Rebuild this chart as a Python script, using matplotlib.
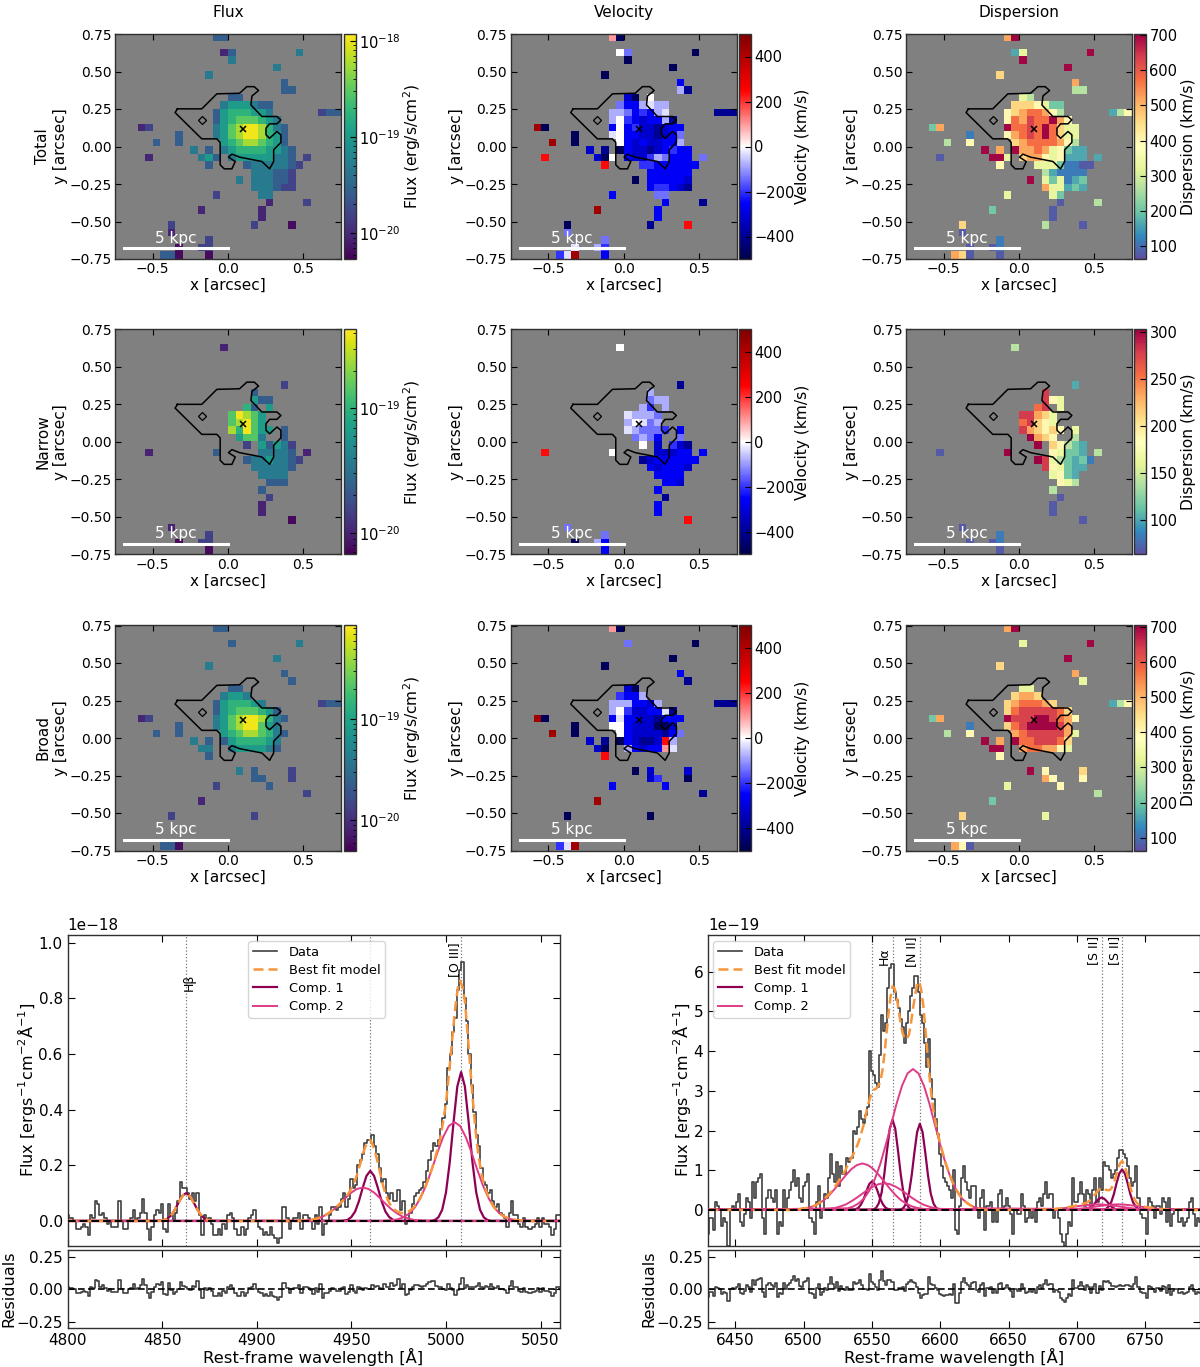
import numpy as np
import matplotlib
matplotlib.use("Agg")
from matplotlib import pyplot as plt
from matplotlib.colors import LogNorm, Normalize

# maps: one string per image row, top row first, '.' = no detection
flux_total = [
    ".............33", "", "..............13........4", "...............4",
    ".....................4", "............4", "......................3",
    "......................33", "...............33", "..............4555433",
    ".............35666554......233", ".............356777654",
    "...12........4578998643", "........3....4578998653",
    ".....3..3.....567887653", "..........4.3.4566665543",
    "....1......453.455555443.2", "............3....34444432",
    "..................444332", "................4.444332",
    "..................444322", ".............2.....44",
    "....................1....2", "...........1.......1", "...................1",
    ".......2..........2....0", ".......1", "............2", "........0..22",
    "......330...0",
]
flux_narrow = [
    "", "", "..............1", "", "", "", "", "......................2",
    "..................3", "..................533", ".................63.5",
    "...............79875", "...............78975", "...............869755.3",
    "................5774..3", ".................2.53542",
    "....1........3.....44443.1", ".................34454432",
    "..................444443", "...................4444",
    "....................333", "...................3", "....................2",
    "...................1", "...................1",
    ".......................0", ".......1", "............2", "........0..22",
    "............0",
]
flux_broad = [
    ".............33", "", "...............3........4", "",
    ".....................4", "............4", "......................3",
    ".......................3", "...............33", "..............4554",
    ".............3566654.......233", ".............356777653",
    "...12........4578998643", "........3....457899754",
    ".....3..3.....567887643", "..........4.3.35666654",
    "...........44..4555543", "............3", "",
    "................4.3....2", "..................33...2",
    ".............2......3", ".........................2", "...........1", "",
    ".......2..........2", "", "", "", "......330",
]
vel_total = [
    ".............ja", "", "..............if........a", "...............a",
    ".....................a", "............a", "......................d",
    "......................gb", "...............ca.i", "..............fddghgg",
    ".............ggfdedgh......bbb", ".............giedcddgb",
    "...ma........dideccbcdd", "........a....hiddccbcdf",
    ".....m..a.....idcdccddg", "..........c.b.adccbcdedd",
    "....k......cai.dccegfddd.f", "............k....eedddddd",
    "..................dddddd", "................a.dddddc",
    "..................deedcb", ".............d.....ff",
    "....................d....b", "...........m.......d", "...................d",
    ".......a..........b....k", ".......f", "............f", "........h..ge",
    "......ehm...d",
]
vel_narrow = [
    "", "", "..............i", "", "", "", "", "......................b",
    "..................g", "..................fgg", ".................ge.g",
    "...............hgggf", "...............gihfg", "...............hgfffe.d",
    "................fgfd..f", ".................i.c.ecb",
    "....k........i.....cccdd.d", ".................bcdddddd",
    "..................dcdddc", "...................dddd",
    "....................ddc", "...................d", "....................b",
    "...................d", "...................d",
    ".......................k", ".......f", "............f", "........a..gd",
    "............d",
]
vel_broad = [
    ".............ja", "", "...............f........a", "",
    ".....................a", "............a", "......................d",
    ".......................b", "...............ca", "..............eddg",
    ".............gggddcg.......bbb", ".............gieccddhb",
    "...ma........dhddccbddd", "........a....iidcccaac",
    ".....m..a.....idccccbdf", "..........c.b.adcbbckg",
    "...........ca..gdcddjh", "............k", "",
    "................a.c....c", "..................ce...a",
    ".............d......d", ".........................b", "...........m", "",
    ".......a..........a", "", "", "", "......ehm",
]
disp_total = [
    ".............8b", "", "..............25........b", "...............b",
    ".....................b", "............7", "......................8",
    "......................44", "...............54", "..............7776533",
    ".............67899864......246", ".............698a99b86",
    "...38........b99a9b9755", "........1....689a9b9755",
    ".....4..6.....789999864", "..........b.8.b889856322",
    "....0......bb5.788656222.2", "............6....55531100",
    "..................421111", "................b.535123",
    "..................855232", ".............5.....53",
    "....................0....4", "...........3.......0", "...................0",
    ".......7..........4....0", ".......0", "............1", "........0..01",
    "......870...0",
]
disp_narrow = [
    "", "", "..............4", "", "", "", "", "......................2",
    "..................a", "..................a65", ".................9a.5",
    "...............aa875", "...............9a765", "...............a87676.5",
    "................b876..4", ".................b.76432",
    "....0........b.....65332.4", ".................ba543231",
    "..................a65322", "...................5632",
    "....................654", "...................4", "....................0",
    "...................0", "...................0",
    ".......................0", ".......0", "............1", "........0..01",
    "............0",
]
disp_broad = [
    ".............8b", "", "...............5........b", "",
    ".....................b", "............7", "......................8",
    ".......................5", "...............55", "..............7887",
    ".............7899987.......246", ".............79aaaaa97",
    "...38........baaabba986", "........1....79abbbba8",
    ".....4..6.....89aaaaa85", "..........b.8.b99aaa97",
    "...........bb..8998865", "............6", "",
    "................b.6....7", "..................86...6",
    ".............5......6", ".........................4", "...........3", "",
    ".......7..........5", "", "", "", "......860",
]

# what each map character stands for
log_flux_total = [-20.2, -20.03, -19.8, -19.57, -19.29, -18.98, -18.75, -18.52, -18.23, -17.98]
log_flux_narrow = [-20.13, -20.0, -19.82, -19.64, -19.42, -19.18, -19.0, -18.85, -18.6, -18.4]
log_flux_broad = [-20.23, -20.07, -19.85, -19.63, -19.36, -19.07, -18.85, -18.65, -18.35, -18.12]
vel_levels = dict(a=-480, b=-400, c=-320, d=-260, e=-200, f=-140, g=-80, h=-30, i=0, j=100, k=240, l=350, m=430)
disp_levels_wide = [77, 115, 166, 205, 268, 332, 396, 460, 518, 575, 633, 697]
disp_levels_narrow = [68, 82, 102, 116, 140, 165, 189, 213, 235, 256, 279, 303]

contour_x = [-0.336, -0.174, -0.074, 0.077, 0.125, 0.174, 0.203, 0.159, 0.152, 0.225, 0.325, 0.351, 0.325, 0.276, 0.252,
             0.252, 0.276, 0.325, 0.351, 0.351, 0.303, 0.303, 0.276, 0.225, 0.077, 0.026, 0.003, 0.048, 0.026, -0.025,
             -0.052, -0.052, -0.074, -0.174, -0.351, -0.336]
contour_y = [0.251, 0.251, 0.351, 0.355, 0.399, 0.399, 0.373, 0.337, 0.277, 0.2, 0.2, 0.177, 0.151, 0.151, 0.122,
             0.078, 0.055, 0.1, 0.078, 0.027, -0.022, -0.1, -0.149, -0.1, -0.071, -0.051, -0.071, -0.1, -0.149, -0.149,
             -0.122, 0.027, 0.051, 0.051, 0.226, 0.251]

# spectra, both in units of 1e-20
data_left = [
    2, 1, 1, 0, -3, -3, -2, -1, -2, -5, 2, 1, 7, 6, 2, 3, 1, -1, 0, -2, -2, -2, 7, 0, -3, -3, 0, 1, 4, 0,
    1, 3, 8, 3, -3, -7, -2, 2, 4, 3, 6, -3, -4, 6, 2, 0, 3, 7, 14, 12, 12, 10, 8, 10, 7, 10, 2, -5,
    2, 0, 1, -1, -5, -5, -3, -5, -1, -3, 2, 3, 1, -3, -5, -5, -2, -5, -3, 1, 2, 4, 0, -2, -3, -5, -4, -5, -2, -5,
    -6, -8, -6, 5, 5, 1, -3, 0, 1, 1, 3, -3, 2, 2, 1, 0, -3, 2, -1, 5,
    -5, -1, 0, 2, 5, 5, 4, 5, 8, 10, 5, 8, 15, 12, 13, 20, 22, 24, 28, 29, 29, 31, 27, 24, 19, 14, 15, 10, 8, 10,
    7, 7, 11, 4, 7, -1, 0, 3, 6, 9, 10, 11, 12, 14, 18, 22, 25, 28, 27, 29, 33, 37, 42, 55, 60, 68, 73, 83, 90, 93,
    80, 72, 60, 49, 39, 31, 27, 19, 14, 13, 10, 11, 7, 5, 6, 3, 2, 1, -2, 3, 7, 2, 2, -1, -2, 1, -2, -3, -3, -2,
    -1, 1, -2, 1, -1, -1, -2, -5, -3, 2, 2,
]
data_right = [
    -6, -2, -2, -5, 2, 1, 0, -4, -2, -3, -9, 0, 1, 0, 2, 4, -3, -4, -1, 3, 2, -2, 7, 3, 7, 8, 9, -2, -6, 3,
    5, 3, 2, 5, -6, -3, -4, 5, 0, 3, 5, 7, 10, 6, 8, 3, 2, 6, 7, 9, -2, -3, -6, 2, 6, -2, 0, 4, 3, 8,
    14, 9, 7, 12, 6, 11, 9, 9, 13, 12, 13, 20, 19, 21, 25, 23, 22, 24, 26, 40, 35, 34, 32, 31, 39, 49, 45, 47, 56, 61,
    62, 55, 53, 51, 48, 46, 42, 47, 50, 54, 56, 59, 59, 55, 49, 47, 42, 36, 43, 33, 28, 23, 19, 14, 11, 8, 7, 6, 5, 3,
    10, -5, -6, 1, 8, 11, 7, 5, 3, 6, 6, 0, -2, 3, 5, -5, 1, 1, 2, -3, 0, -3, 4, 5, 0, 1, 3, 1, -1, -6,
    0, -1, -1, 4, 1, -3, -2, 0, -2, 0, -3, 2, 3, 1, 4, 7, 3, 4, 4, -2, 0, -2, -6, -8, -9, -6, -3, -4, 8, 2,
    2, 4, 7, 4, 1, 5, 4, 0, 5, 8, 2, 8, 5, 12, 11, 11, 10, 8, 9, 10, 13, 15, 15, 14, 13, 11, 8, 6, 7, 11,
    3, -1, -2, -2, -6, 3, 2, 1, -2, 1, 1, -1, 3, 2, -3, 3, -4, -1, 0, 0, -3, -2, -4, -3, -2, 2, 3, -1, -4, -2, -3,
]

# fitted components: offset from line centre and height on one wing
dx_narrow = [0, 2, 4, 6, 8, 10, 12, 14, 16]
dx_broad_left = [0, 3, 6, 9, 12, 15, 18, 21, 24, 27, 30, 33, 36, 39]
dx_broad_right = [0, 4, 8, 12, 16, 20, 24, 28, 32, 36, 40, 44, 48]

c1_hb = [10, 9, 6.6, 4, 1.9, 0.8, 0.2, 0.1, 0]
c1_o3_4960 = [18, 16.2, 11.9, 7.1, 3.4, 1.4, 0.4, 0.1, 0]
c1_o3_5008 = [53.5, 48.3, 35.4, 21.1, 10.2, 4, 1.3, 0.3, 0]
c2_o3_4956 = [12, 11.5, 10.2, 8.3, 6.2, 4.3, 2.8, 1.6, 0.9, 0.4, 0.2, 0.1, 0, 0]
c2_o3_5004 = [35.5, 34.1, 30.1, 24.6, 18.5, 12.8, 8.2, 4.8, 2.6, 1.3, 0.6, 0.3, 0.1, 0]

c1_n2_6550 = [7.2, 6.5, 4.8, 2.8, 1.4, 0.5, 0.2, 0, 0]
c1_ha = [22.7, 20.5, 15, 9, 4.3, 1.7, 0.5, 0.1, 0]
c1_n2_6585 = [21.7, 19.6, 14.4, 8.6, 4.1, 1.6, 0.5, 0.1, 0]
c1_s2_6718 = [3.1, 2.8, 2.1, 1.2, 0.6, 0.2, 0.1, 0, 0]
c1_s2_6733 = [10.2, 9.2, 6.8, 4, 1.9, 0.8, 0.2, 0.1, 0]
c2_n2_6543 = [11.7, 11.3, 10.3, 8.8, 7.1, 5.4, 3.8, 2.5, 1.6, 0.9, 0.5, 0.3, 0.1]
c2_ha = [6.7, 6.5, 5.9, 5.1, 4.1, 3.1, 2.2, 1.4, 0.9, 0.5, 0.3, 0.2, 0.1]
c2_n2_6580 = [35.5, 34.4, 31.3, 26.8, 21.5, 16.3, 11.5, 7.7, 4.8, 2.8, 1.6, 0.8, 0.4]
c2_s2_6715 = [1.4, 1.35, 1.2, 1.05, 0.85, 0.65, 0.45, 0.3, 0.2, 0.1, 0.1, 0, 0]
c2_s2_6730 = [1.4, 1.35, 1.2, 1.05, 0.85, 0.65, 0.45, 0.3, 0.2, 0.1, 0.1, 0, 0]

lines_left = [4862.7, 4960, 5008]
names_left = ["Hβ", "", "[O III]"]
lines_right = [6550, 6565, 6585, 6718, 6733]
names_right = ["", "Hα", "[N II]", "[S II]", "[S II]"]

PX_W, PX_H = 1200, 1367
plt.rcParams["font.family"] = "DejaVu Sans"
plt.rcParams["axes.linewidth"] = 1.0
plt.rcParams["axes.edgecolor"] = "#303030"
fig = plt.figure(figsize=(12, 13.67), dpi=100)


def px_axes(left, top, right, bottom):
    return fig.add_axes([left / PX_W, 1 - bottom / PX_H, (right - left) / PX_W, (bottom - top) / PX_H])


def decode(rows, table):
    out = np.full((30, 30), np.nan)
    for j, row in enumerate(rows):
        for i, ch in enumerate(row):
            if ch != ".":
                out[j, i] = table[ch]
    return np.ma.masked_invalid(out)


def digits(values):
    return {"0123456789ab"[k]: v for k, v in enumerate(values)}


def draw_map(left, top, right, cleft, grid, cmap, norm, label, ticks, title=None, ylab="y [arcsec]", label_x=None):
    ax = px_axes(left, top, right, top + 225)
    ax.set_facecolor("#808080")
    im = ax.imshow(grid, extent=(-0.75, 0.75, -0.75, 0.75), cmap=cmap, norm=norm, aspect="auto",
                   interpolation="nearest", origin="upper")
    ax.plot(contour_x, contour_y, color="k", lw=1.1)
    ax.plot([-0.175], [0.175], marker="D", ms=4.2, mfc="none", mec="k", mew=0.9, ls="none")
    ax.plot([0.1], [0.12], marker="x", ms=4.5, color="k", mew=1.1, ls="none")
    ax.plot([-0.69, 0], [-0.677, -0.677], color="w", lw=2.2)
    ax.text(-0.345, -0.66, "5 kpc", color="w", fontsize=11, ha="center", va="bottom")
    ax.set_xlim(-0.75, 0.75)
    ax.set_ylim(-0.75, 0.75)
    ax.set_xticks([-0.5, 0, 0.5])
    ax.set_xticklabels(["\u22120.5", "0.0", "0.5"])
    ax.set_yticks([-0.75, -0.5, -0.25, 0, 0.25, 0.5, 0.75])
    ax.set_yticklabels(["\u22120.75", "\u22120.50", "\u22120.25", "0.00", "0.25", "0.50", "0.75"])
    ax.tick_params(direction="in", top=True, right=True, length=4, labelsize=10, pad=2.5)
    ax.set_xlabel("x [arcsec]", fontsize=11, labelpad=1)
    ax.set_ylabel(ylab, fontsize=11, labelpad=1)
    if title:
        ax.set_title(title, fontsize=11, pad=12.5)
    cax = px_axes(cleft, top, cleft + 12, top + 225)
    cb = fig.colorbar(im, cax=cax)
    cb.set_ticks(ticks)
    cax.tick_params(which="both", direction="in", labelsize=10.5, length=4, pad=2.5)
    cax.tick_params(which="minor", length=2)
    cb.set_label(label, fontsize=11.2)
    cax.yaxis.set_label_coords(label_x, 0.5)


col_left = [115, 510.7, 906]
col_right = [341, 736.5, 1132]
col_cbar = [343.5, 739, 1134]
row_top = [34, 329.5, 625.5]
row_names = ["Total", "Narrow", "Broad"]
flux_maps = [flux_total, flux_narrow, flux_broad]
flux_tables = [log_flux_total, log_flux_narrow, log_flux_broad]
flux_lims = [(5.4e-21, 1.18e-18), (6.7e-21, 4.3e-19), (5e-21, 8.5e-19)]
flux_ticks = [[1e-20, 1e-19, 1e-18], [1e-20, 1e-19], [1e-20, 1e-19]]
flux_labels = ["Flux (erg/s/cm$^2$)"] * 3
vel_maps = [vel_total, vel_narrow, vel_broad]
disp_maps = [disp_total, disp_narrow, disp_broad]
disp_tables = [disp_levels_wide, disp_levels_narrow, disp_levels_wide]
disp_lims = [(64, 703), (63, 303), (64, 703)]
disp_ticks = [[100, 200, 300, 400, 500, 600, 700], [100, 150, 200, 250, 300], [100, 200, 300, 400, 500, 600, 700]]
col_titles = ["Flux", "Velocity", "Dispersion"]

for r in range(3):
    top = row_top[r]
    flux_values = {k: 10.0 ** v for k, v in digits(flux_tables[r]).items()}
    draw_map(col_left[0], top, col_right[0], col_cbar[0], decode(flux_maps[r], flux_values), "viridis",
             LogNorm(*flux_lims[r]), flux_labels[r], flux_ticks[r], col_titles[0] if r == 0 else None,
             row_names[r] + "\ny [arcsec]", label_x=4.8)
    draw_map(col_left[1], top, col_right[1], col_cbar[1], decode(vel_maps[r], vel_levels), "seismic",
             Normalize(-500, 500), "Velocity (km/s)", [-400, -200, 0, 200, 400],
             col_titles[1] if r == 0 else None, label_x=4.65)
    draw_map(col_left[2], top, col_right[2], col_cbar[2], decode(disp_maps[r], digits(disp_tables[r])), "Spectral_r",
             Normalize(*disp_lims[r]), "Dispersion (km/s)", disp_ticks[r],
             col_titles[2] if r == 0 else None, label_x=3.9)


def mirror(centre, dx, wing):
    dx = np.asarray(dx, dtype=float)
    wing = np.asarray(wing, dtype=float)
    x = np.concatenate([centre - dx[:0:-1], centre + dx])
    y = np.concatenate([wing[:0:-1], wing])
    return x, y


def spectrum_panel(left, xlim, wave, data, comps1, comps2, lines, names, name_dx, name_top, ylim, yticks, xticks, legend_box):
    ax = px_axes(left, 934.5, left + 492, 1246)
    res = px_axes(left, 1249.5, left + 492, 1328)
    data = np.asarray(data) * 1e-20
    model = np.zeros_like(wave)
    for x, y in comps1 + comps2:
        model += np.interp(wave, x, y * 1e-20, left=0, right=0)
    for ln in lines:
        ax.axvline(ln, color="#777777", lw=0.9, ls=":", zorder=1)
    ax.step(wave, data, where="mid", color="#404040", lw=1.2, label="Data", zorder=2)
    ax.plot(wave, model, color="#f7953c", lw=1.8, ls=(0, (4, 2)), label="Best fit model", zorder=5)
    for k, (x, y) in enumerate(comps1):
        ax.plot(np.r_[xlim[0], x, xlim[1]], np.r_[0, y, 0] * 1e-20, color="#8e0152", lw=1.6, zorder=3,
                label="Comp. 1" if k == 0 else None)
    for k, (x, y) in enumerate(comps2):
        ax.plot(np.r_[xlim[0], x, xlim[1]], np.r_[0, y, 0] * 1e-20, color="#de3b86", lw=1.4, zorder=4,
                label="Comp. 2" if k == 0 else None)
    ax.axhline(0, color="k", lw=1.4, ls=(0, (4, 2)), zorder=6)
    for ln, nm, ddx, ntop in zip(lines, names, name_dx, name_top):
        if nm:
            ax.text(ln + ddx, ntop, nm, rotation=90, ha="right", va="top", fontsize=9,
                    transform=ax.get_xaxis_transform())
    ax.set_xlim(*xlim)
    ax.set_ylim(*ylim)
    ax.set_yticks(yticks)
    ax.set_xticks(xticks)
    ax.tick_params(direction="in", top=True, right=True, length=5, labelsize=11, labelbottom=False)
    ax.yaxis.get_offset_text().set_fontsize(11)
    ax.set_ylabel("Flux [ergs$^{-1}$cm$^{-2}$Å$^{-1}$]", fontsize=11.6, labelpad=0)
    ax.legend(loc="upper left", bbox_to_anchor=legend_box, fontsize=9.4, framealpha=0.8, handlelength=1.85,
              labelspacing=0.4, handletextpad=0.9, borderpad=0.35)

    res.step(wave, (data - model) / 1e-18, where="mid", color="#404040", lw=1.2)
    res.axhline(0, color="k", lw=1.2, ls=(0, (4, 2)))
    res.set_xlim(*xlim)
    res.set_ylim(-0.297, 0.305)
    res.set_xticks(xticks)
    res.set_yticks([-0.25, 0, 0.25])
    res.set_yticklabels(["\u22120.25", "0.00", "0.25"])
    res.tick_params(direction="in", top=True, right=True, length=5, labelsize=11)
    res.set_xlabel("Rest-frame wavelength [Å]", fontsize=11.8, labelpad=0)
    res.set_ylabel("Residuals", fontsize=11.6, labelpad=0)


wave_left = 4800 + 1.25 * np.arange(len(data_left))
wave_right = 6430 + 1.5 * np.arange(len(data_right))

spectrum_panel(67.5, (4800, 5060), wave_left, data_left,
               [mirror(4862.7, dx_narrow, c1_hb), mirror(4960, dx_narrow, c1_o3_4960), mirror(5008, dx_narrow, c1_o3_5008)],
               [mirror(4956, dx_broad_left, c2_o3_4956), mirror(5004.5, dx_broad_left, c2_o3_5004)],
               lines_left, names_left, [5, 0, 0], [0.876, 0.99, 0.976],
               (-0.09e-18, 1.029e-18), np.array([0, 0.2, 0.4, 0.6, 0.8, 1.0]) * 1e-18,
               [4800, 4850, 4900, 4950, 5000, 5050], (0.354, 1.0))
spectrum_panel(708, (6430, 6790), wave_right, data_right,
               [mirror(6550, dx_narrow, c1_n2_6550), mirror(6565, dx_narrow, c1_ha), mirror(6585, dx_narrow, c1_n2_6585),
                mirror(6718, dx_narrow, c1_s2_6718), mirror(6733, dx_narrow, c1_s2_6733)],
               [mirror(6543, dx_broad_right, c2_n2_6543), mirror(6559, dx_broad_right, c2_ha),
                mirror(6580, dx_broad_right, c2_n2_6580), mirror(6715, dx_broad_right, c2_s2_6715),
                mirror(6730, dx_broad_right, c2_s2_6730)],
               lines_right, names_right, [0, -1, -1, -1, -1], [0.99, 0.96, 0.995, 0.995, 0.995],
               (-0.91e-19, 6.94e-19), np.arange(0, 7) * 1e-19,
               [6450, 6500, 6550, 6600, 6650, 6700, 6750], (-0.003, 1.0))

fig.savefig("out.png", dpi=100)
